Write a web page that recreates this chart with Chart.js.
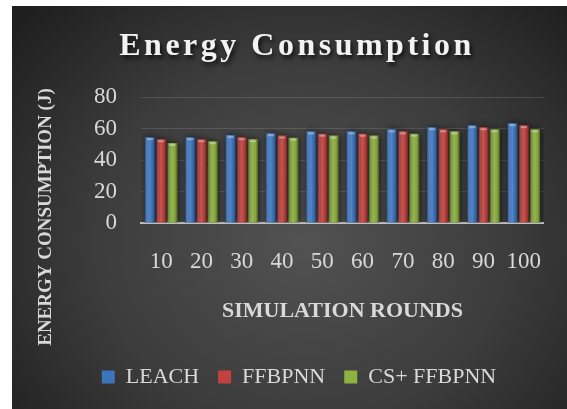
<!DOCTYPE html>
<html>
<head>
<meta charset="utf-8">
<script src="https://cdn.jsdelivr.net/npm/chart.js@4.4.1/dist/chart.umd.min.js"></script>
<style>
  html, body { margin: 0; padding: 0; background: #ffffff; width: 567px; height: 409px; overflow: hidden; }
  #panel { position: absolute; left: 12px; top: 6px; width: 555px; height: 403px; }
</style>
</head>
<body>
<div id="panel"><canvas id="energy" width="555" height="403"></canvas></div>
<script>
// Simulation rounds on the category axis
const rounds = ['10', '20', '30', '40', '50', '60', '70', '80', '90', '100'];

// Energy consumption (J) per protocol
const leach     = [54.5, 54.5, 55.8, 57.0, 58.2, 58.2, 59.5, 60.8, 62.1, 63.4];
const ffbpnn    = [53.2, 53.2, 54.5, 55.5, 56.7, 56.7, 58.2, 59.5, 60.8, 62.1];
const csFfbpnn  = [50.8, 51.9, 53.2, 54.2, 55.5, 55.5, 56.7, 58.2, 59.5, 59.5];

// Value axis ticks
const yTicks = [0, 20, 40, 60, 80];

const seriesNames = ['LEACH', 'FFBPNN', 'CS+ FFBPNN'];
const seriesColors = ['#3d74bb', '#c2423f', '#8db23f'];
const chartTitle = 'Energy Consumption';
const yTitle = 'ENERGY CONSUMPTION (J)';
const xTitle = 'SIMULATION ROUNDS';

const SERIF = '"Liberation Serif", "Times New Roman", serif';
const TEXT = '#d9d9d9';

// Dark panel with a soft light spot towards the middle
const panelBackground = {
  id: 'panelBackground',
  beforeDraw(chart) {
    const { ctx, width, height } = chart;
    ctx.save();
    ctx.translate(290, 235);
    ctx.scale(1.15, 1);
    const g = ctx.createRadialGradient(0, 0, 0, 0, 0, 330);
    g.addColorStop(0, '#525252');
    g.addColorStop(0.55, '#3c3c3c');
    g.addColorStop(1, '#1f1f1f');
    ctx.fillStyle = g;
    ctx.fillRect(-290 / 1.15, -235, width / 1.15, height);
    ctx.restore();
  }
};

// Cylinder-like shading and a lit top edge on each bar, plus a dark glow
const barShading = {
  id: 'barShading',
  beforeDatasetsDraw(chart) {
    const ctx = chart.ctx;
    ctx.save();
    ctx.shadowColor = 'rgba(0,0,0,0.65)';
    ctx.shadowBlur = 6;
    ctx.shadowOffsetX = 1;
  },
  afterDatasetsDraw(chart) {
    const ctx = chart.ctx;
    ctx.restore();
    ctx.save();
    chart.data.datasets.forEach((ds, di) => {
      chart.getDatasetMeta(di).data.forEach(bar => {
        const { x, y, base, width } = bar.getProps(['x', 'y', 'base', 'width'], true);
        const left = x - width / 2;
        const g = ctx.createLinearGradient(left, 0, left + width, 0);
        g.addColorStop(0, 'rgba(0,0,0,0.45)');
        g.addColorStop(0.3, 'rgba(255,255,255,0.06)');
        g.addColorStop(0.5, 'rgba(255,255,255,0.12)');
        g.addColorStop(0.75, 'rgba(0,0,0,0.05)');
        g.addColorStop(1, 'rgba(0,0,0,0.45)');
        ctx.fillStyle = g;
        ctx.fillRect(left, y, width, base - y);
        ctx.fillStyle = 'rgba(255,255,255,0.35)';
        ctx.fillRect(left + 2, y + 1, width - 4, 2);
      });
    });
    ctx.restore();
  }
};

// Spaced-out heading and the rotated value-axis caption
const panelText = {
  id: 'panelText',
  afterDraw(chart) {
    const ctx = chart.ctx;
    const cx = (chart.legend.left + chart.legend.right) / 2;
    ctx.save();
    ctx.font = 'bold 32px ' + SERIF;
    ctx.letterSpacing = '3.5px';
    ctx.textAlign = 'center';
    ctx.textBaseline = 'middle';
    ctx.shadowColor = 'rgba(0,0,0,0.75)';
    ctx.shadowBlur = 4;
    ctx.shadowOffsetX = 2;
    ctx.shadowOffsetY = 3;
    ctx.fillStyle = '#f2f2f2';
    ctx.fillText(chartTitle, cx - 2, 41);
    ctx.restore();

    ctx.save();
    ctx.font = 'bold 19px ' + SERIF;
    ctx.textAlign = 'center';
    ctx.textBaseline = 'middle';
    ctx.fillStyle = TEXT;
    ctx.translate(34, 211);
    ctx.rotate(-Math.PI / 2);
    ctx.fillText(yTitle, 0, 0);
    ctx.restore();
  }
};

new Chart(document.getElementById('energy'), {
  type: 'bar',
  data: {
    labels: rounds,
    datasets: [
      { label: seriesNames[0], data: leach,    backgroundColor: seriesColors[0] },
      { label: seriesNames[1], data: ffbpnn,   backgroundColor: seriesColors[1] },
      { label: seriesNames[2], data: csFfbpnn, backgroundColor: seriesColors[2] }
    ]
  },
  options: {
    responsive: false,
    animation: false,
    devicePixelRatio: 1,
    layout: { padding: { top: 91, left: 38, right: 19, bottom: 11 } },
    datasets: { bar: { categoryPercentage: 0.83, barPercentage: 0.92, borderWidth: 0 } },
    plugins: {
      title: { display: false },
      tooltip: { enabled: false },
      legend: {
        position: 'bottom',
        labels: {
          boxWidth: 13, boxHeight: 13, padding: 19,
          color: TEXT,
          font: { family: SERIF, size: 22 }
        }
      }
    },
    scales: {
      x: {
        grid: { display: false, drawTicks: false },
        border: { display: true, color: '#bfbfbf', width: 2 },
        ticks: { color: TEXT, font: { family: SERIF, size: 23 }, padding: 25, maxRotation: 0, autoSkip: false },
        title: {
          display: true, text: xTitle, color: TEXT,
          font: { family: SERIF, size: 22, weight: 'bold' },
          padding: { top: 0, bottom: 22 }
        },
        afterFit(scale) { scale.height = 124; }
      },
      y: {
        min: 0, max: 80,
        afterBuildTicks(scale) { scale.ticks = yTicks.map(v => ({ value: v })); },
        grid: { color: 'rgba(255,255,255,0.13)', lineWidth: 1, drawTicks: false },
        border: { display: false },
        ticks: { color: TEXT, font: { family: SERIF, size: 23 }, padding: 24 },
        afterFit(scale) { scale.width = 91; }
      }
    }
  },
  plugins: [panelBackground, barShading, panelText]
});
</script>
</body>
</html>
